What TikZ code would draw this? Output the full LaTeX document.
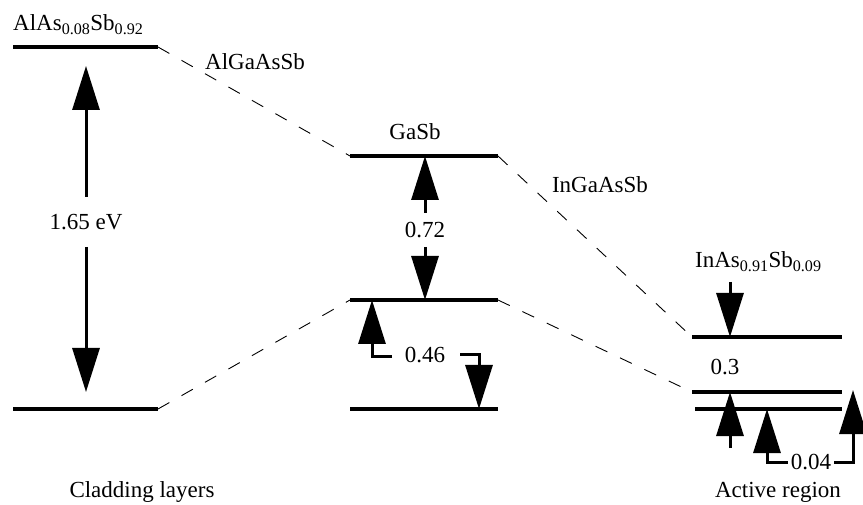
\documentclass[tikz,border=0pt]{standalone}
\usepackage{fontspec}
\setmainfont{Liberation Serif}
\usetikzlibrary{arrows.meta}

\begin{document}
\begin{tikzpicture}[x=1pt,y=-1pt]
    \tikzstyle{lvl}=[line width=3.6pt]
    \tikzstyle{link}=[line width=0.9pt,dash pattern=on 13pt off 14pt]
    \tikzstyle{marrs}=[line width=3pt,-{Triangle[length=44pt,width=27pt]}]
    \tikzstyle{lbl}=[font=\fontsize{23}{26}\selectfont,inner sep=0pt]

    \useasboundingbox (0,0) rectangle (863,505);

    % band edges
    \coordinate (l1a) at (13,47);   \coordinate (l1b) at (158,47);
    \coordinate (l2a) at (13,409);  \coordinate (l2b) at (158,409);
    \coordinate (m1a) at (350,156); \coordinate (m1b) at (498,156);
    \coordinate (m2a) at (350,300); \coordinate (m2b) at (498,300);
    \coordinate (m3a) at (350,409); \coordinate (m3b) at (498,409);
    \coordinate (r1a) at (692,337); \coordinate (r1b) at (842,337);
    \coordinate (r2a) at (692,392); \coordinate (r2b) at (842,392);
    \coordinate (r3a) at (695,409); \coordinate (r3b) at (842,409);

    \foreach \a/\b in {l1a/l1b, l2a/l2b, m1a/m1b, m2a/m2b, m3a/m3b, r1a/r1b, r2a/r2b, r3a/r3b} {
        \draw[lvl] (\a) -- (\b);
    }

    \draw[link] (l1b) -- (m1a);
    \draw[link] (l2b) -- (m2a);
    \draw[link] (m1b) -- (r1a);
    \draw[link] (m2b) -- (r2a);

    % gaps
    \node[lbl] (eg1) at (86,222) {1.65 eV};
    \draw[marrs] (eg1.north |- 0,197) -- (eg1.north |- 0,66);
    \draw[marrs] (eg1.south |- 0,247) -- (eg1.south |- 0,392);

    \node[lbl] (eg2) at (425,230) {0.72};
    \draw[marrs] (eg2.north |- 0,213) -- (eg2.north |- m1a);
    \draw[marrs] (eg2.south |- 0,247) -- (eg2.south |- m2a);

    \node[lbl] (dv2) at (425,355) {0.46};
    \draw[marrs] (392,357) -| (372,300);
    \draw[marrs] (460,355) -| (479,409);

    \node[lbl] (eg3) at (725,367) {0.3};
    \coordinate (top3) at (730,282);
    \coordinate (bot3) at (730,448);
    \draw[marrs] (top3) -- (top3 |- r1a);
    \draw[marrs] (bot3) -- (bot3 |- r2a);

    \node[lbl,inner xsep=3pt] (dv3) at (811,462) {0.04};
    \draw[marrs] (dv3.west) -| (767,409);
    \draw[marrs] (dv3.east) -| (853,390);

    % names
    \node[lbl,anchor=base west] (alas) at (13,31) {AlAs\textsubscript{0.08}Sb\textsubscript{0.92}};
    \node[lbl] (algaassb) at (255,62) {AlGaAsSb};
    \node[lbl] (gasb) at (415,132) {GaSb};
    \node[lbl] (ingaassb) at (600,185) {InGaAsSb};
    \node[lbl,anchor=base west] (inas) at (695,268) {InAs\textsubscript{0.91}Sb\textsubscript{0.09}};
    \node[lbl] (clad) at (142,492) {Cladding layers};
    \node[lbl] (active) at (778,492) {Active region};
\end{tikzpicture}
\end{document}
